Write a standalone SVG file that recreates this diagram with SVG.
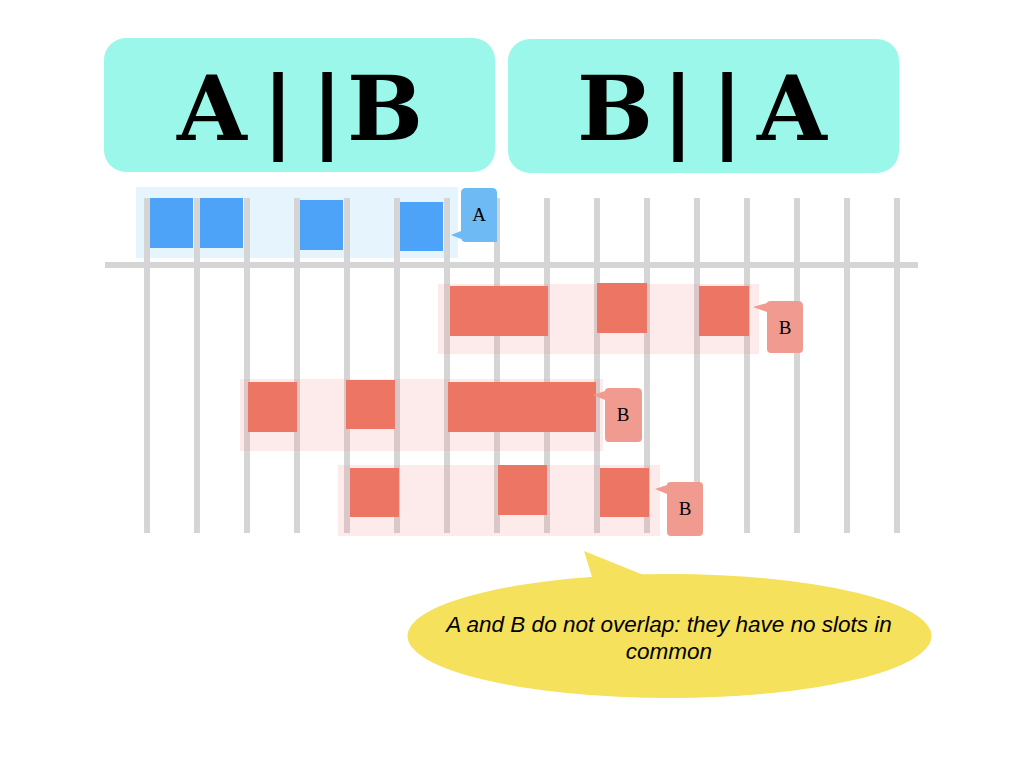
<svg xmlns="http://www.w3.org/2000/svg" width="1024" height="768" viewBox="0 0 1024 768">
<style>
.title{fill:#9BF7EA}
.tt{font-family:"DejaVu Serif","Liberation Serif",serif;font-weight:bold;font-size:90px;fill:#000;text-anchor:middle}
.grid{stroke:#D5D5D5;stroke-width:6;fill:none}
.bandA{fill:#E6F4FD}
.bandB{fill:#EE8A80;fill-opacity:0.17}
.sqA{fill:#4DA3F7}
.sqB{fill:#EC7563}
.calA{fill:#6EBAF5}
.calB{fill:#F19B90}
.lab{font-family:"Liberation Serif","Times New Roman",serif;font-size:19px;fill:#000;text-anchor:middle}
.note{font-family:"Liberation Sans",Arial,sans-serif;font-style:italic;font-size:22.5px;fill:#000;text-anchor:middle}
</style>
<rect width="1024" height="768" fill="#fff"/>
<g id="title-ab">
<rect class="title" x="104" y="38" width="391" height="134" rx="22"/>
<text class="tt" x="212 278 327 385" y="140">A||B</text>
</g>
<g id="title-ba">
<rect class="title" x="508" y="39" width="391" height="134" rx="22"/>
<text class="tt" x="615 678 727 792" y="140">B||A</text>
</g>
<g id="bandA-bg">
<rect class="bandA" x="136" y="187" width="322" height="71"/>
</g>
<g id="grid">
<line class="grid" x1="105" y1="265" x2="918" y2="265"/>
<line class="grid" x1="147" y1="198" x2="147" y2="533"/>
<line class="grid" x1="197" y1="198" x2="197" y2="533"/>
<line class="grid" x1="247" y1="198" x2="247" y2="533"/>
<line class="grid" x1="297" y1="198" x2="297" y2="533"/>
<line class="grid" x1="347" y1="198" x2="347" y2="533"/>
<line class="grid" x1="397" y1="198" x2="397" y2="533"/>
<line class="grid" x1="447" y1="198" x2="447" y2="533"/>
<line class="grid" x1="497" y1="198" x2="497" y2="533"/>
<line class="grid" x1="547" y1="198" x2="547" y2="533"/>
<line class="grid" x1="597" y1="198" x2="597" y2="533"/>
<line class="grid" x1="647" y1="198" x2="647" y2="533"/>
<line class="grid" x1="697" y1="198" x2="697" y2="533"/>
<line class="grid" x1="747" y1="198" x2="747" y2="533"/>
<line class="grid" x1="797" y1="198" x2="797" y2="533"/>
<line class="grid" x1="847" y1="198" x2="847" y2="533"/>
<line class="grid" x1="897" y1="198" x2="897" y2="533"/>
</g>
<g id="rowA">
<rect class="sqA" x="150" y="198" width="43" height="50"/>
<rect class="sqA" x="200" y="198" width="43" height="50"/>
<rect class="sqA" x="300" y="200" width="43" height="50"/>
<rect class="sqA" x="400" y="202" width="43" height="49"/>
</g>
<g id="labelA">
<path class="calA" d="M466,188 H492 Q497,188 497,193 V242 H466 Q461,242 461,237 V239 L451,235 L461,231 V193 Q461,188 466,188 Z"/>
<text class="lab" x="479" y="221">A</text>
</g>
<g id="rowB1">
<rect class="bandB" x="438" y="284" width="321" height="70"/>
<rect class="sqB" x="450" y="286" width="98" height="50"/>
<rect class="sqB" x="597" y="283" width="50" height="50"/>
<rect class="sqB" x="699" y="286" width="50" height="50"/>
</g>
<g id="labelB1">
<path class="calB" d="M771,301 H798 Q803,301 803,306 V349 Q803,353 799,353 H771 Q767,353 767,349 V312 L753,307 L767,303 Q767,301 771,301 Z"/>
<text class="lab" x="785" y="334">B</text>
</g>
<g id="rowB2">
<rect class="bandB" x="240" y="379" width="363" height="72"/>
<rect class="sqB" x="248" y="382" width="49" height="50"/>
<rect class="sqB" x="346" y="380" width="49" height="49"/>
<rect class="sqB" x="448" y="382" width="148" height="50"/>
</g>
<g id="labelB2">
<path class="calB" d="M609,388 H637 Q642,388 642,393 V438 Q642,442 638,442 H609 Q605,442 605,438 V400 L593,395 L605,391 Q605,388 609,388 Z"/>
<text class="lab" x="623" y="421">B</text>
</g>
<g id="rowB3">
<rect class="bandB" x="338" y="465" width="322" height="71"/>
<rect class="sqB" x="350" y="468" width="49" height="49"/>
<rect class="sqB" x="498" y="465" width="49" height="50"/>
<rect class="sqB" x="600" y="468" width="49" height="49"/>
</g>
<g id="labelB3">
<path class="calB" d="M671,482 H699 Q703,482 703,486 V532 Q703,536 699,536 H671 Q667,536 667,532 V494 L655,489 L667,485 Q667,482 671,482 Z"/>
<text class="lab" x="685" y="515">B</text>
</g>
<g id="note">
<ellipse cx="669.5" cy="636" rx="262" ry="62" fill="#F5E15B"/>
<path d="M593,580 L584,551 L646,576 Z" fill="#F5E15B"/>
<text class="note" x="669" y="632">A and B do not overlap: they have no slots in</text>
<text class="note" x="669" y="659">common</text>
</g>
</svg>
